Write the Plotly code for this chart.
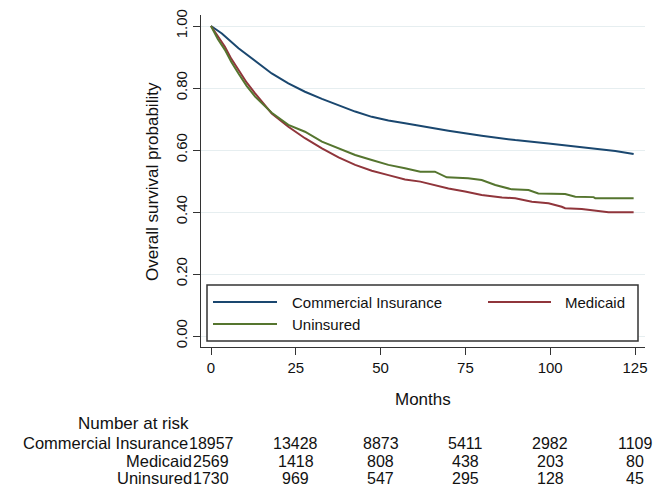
import plotly.graph_objects as go

# ---- data ----
months_ci = [0, 3.2, 8.1, 13.0, 17.9, 22.8, 27.7, 32.7, 37.6, 42.5, 47.4, 52.3, 57.2, 61.7,
             70.0, 79.8, 89.7, 99.5, 109.3, 119.2, 124.6]
surv_ci = [1.0, 0.976, 0.928, 0.888, 0.847, 0.815, 0.788, 0.765, 0.745, 0.724, 0.707, 0.695, 0.686, 0.677,
           0.662, 0.646, 0.632, 0.621, 0.610, 0.597, 0.587]

months_md = [0, 2.0, 4.1, 6.0, 8.1, 10.5, 13.0, 15.5, 17.9, 22.8, 27.7, 32.7, 37.6, 42.5, 47.4, 52.3, 57.2, 61.7,
             66.0, 70.0, 74.9, 79.8, 85.8, 89.7, 94.6, 99.5, 103.4, 104.4, 109.3, 114.3, 117.2, 124.6]
surv_md = [1.0, 0.968, 0.933, 0.894, 0.858, 0.818, 0.783, 0.749, 0.718, 0.675, 0.638, 0.605, 0.576, 0.552, 0.533,
           0.519, 0.505, 0.498,
           0.487, 0.476, 0.466, 0.455, 0.447, 0.444, 0.433, 0.428, 0.417, 0.412, 0.410, 0.404, 0.399, 0.399]

months_un = [0, 2.0, 4.1, 6.0, 8.1, 10.5, 13.0, 15.5, 17.9, 22.8, 27.7, 32.7, 37.6, 42.5, 47.4, 52.3, 57.2, 61.7,
             66.0, 69.5, 75.8, 79.8, 83.8, 88.7, 93.6, 96.5, 104.4, 107.4, 112.8, 113.3, 124.6]
surv_un = [1.0, 0.958, 0.923, 0.884, 0.847, 0.807, 0.772, 0.744, 0.720, 0.681, 0.659, 0.627, 0.605, 0.584, 0.568,
           0.552, 0.541, 0.530,
           0.530, 0.512, 0.509, 0.503, 0.487, 0.473, 0.471, 0.460, 0.458, 0.449, 0.448, 0.444, 0.444]

group_names = ["Commercial Insurance", "Medicaid", "Uninsured"]
group_colors = ["#1a476f", "#90353b", "#55752f"]

risk_times = [0, 25, 50, 75, 100, 125]
risk_ci = [18957, 13428, 8873, 5411, 2982, 1109]
risk_md = [2569, 1418, 808, 438, 203, 80]
risk_un = [1730, 969, 547, 295, 128, 45]

y_ticks = [0, 0.2, 0.4, 0.6, 0.8, 1.0]

FONT = "Liberation Sans, Arial, sans-serif"
TXT = "#111111"

# plot area in pixels: x 201..645, y 15..347
L, R, T, B = 201, 645, 15, 347
W, H = 653, 492


def px_x(px):
    return (px - L) / (R - L)


def px_y(py):
    return (B - py) / (B - T)


fig = go.Figure()
for xs, ys, name, col in zip([months_ci, months_md, months_un],
                             [surv_ci, surv_md, surv_un],
                             group_names, group_colors):
    fig.add_trace(go.Scatter(x=xs, y=ys, mode="lines", name=name,
                             line=dict(color=col, width=2), showlegend=False))

shapes = []
annotations = []

# manual Stata-style legend
shapes.append(dict(type="rect", xref="paper", yref="paper",
                   x0=px_x(207), x1=px_x(638), y0=px_y(341), y1=px_y(285),
                   line=dict(color="#333333", width=1.5), fillcolor="white", layer="above"))
legend_pos = [  # (line x0, line x1, row y, text x, anchor)
    (213, 277, 302, 290, "left"),
    (488, 551, 302, 627, "right"),
    (213, 277, 324, 290, "left"),
]
for (lx0, lx1, ly, tx, anc), name, col in zip(legend_pos, group_names, group_colors):
    shapes.append(dict(type="line", xref="paper", yref="paper",
                       x0=px_x(lx0), x1=px_x(lx1), y0=px_y(ly), y1=px_y(ly),
                       line=dict(color=col, width=2), layer="above"))
    annotations.append(dict(xref="paper", yref="paper", x=px_x(tx), y=px_y(ly),
                            text=name, showarrow=False, xanchor=anc, yanchor="middle",
                            font=dict(family=FONT, size=15, color=TXT)))

# axis titles
annotations.append(dict(xref="paper", yref="paper", x=px_x(423), y=px_y(399),
                        text="Months", showarrow=False, xanchor="center", yanchor="middle",
                        font=dict(family=FONT, size=17, color=TXT)))
annotations.append(dict(xref="paper", yref="paper", x=px_x(152), y=px_y(182),
                        text="Overall survival probability", showarrow=False, textangle=-90,
                        xanchor="center", yanchor="middle",
                        font=dict(family=FONT, size=17, color=TXT)))

# number at risk table
annotations.append(dict(xref="paper", yref="paper", x=px_x(133), y=px_y(423),
                        text="Number at risk", showarrow=False, xanchor="center", yanchor="middle",
                        font=dict(family=FONT, size=17, color=TXT)))
row_y = [443, 461, 478]
label_right = [190, 194, 194]
for name, vals, ry, lr in zip(group_names, [risk_ci, risk_md, risk_un], row_y, label_right):
    annotations.append(dict(xref="paper", yref="paper", x=px_x(lr), y=px_y(ry),
                            text=name, showarrow=False, xanchor="right", yanchor="middle",
                            font=dict(family=FONT, size=16.5, color=TXT)))
    for t, v in zip(risk_times, vals):
        annotations.append(dict(xref="x", yref="paper", x=t, y=px_y(ry),
                                text=str(v), showarrow=False, xanchor="center", yanchor="middle",
                                font=dict(family=FONT, size=16, color=TXT)))

x_per_px = 125 / (635 - 211)
y_per_px = 1.0 / (336 - 26)

fig.update_layout(
    width=W, height=H,
    margin=dict(l=L, r=W - R, t=T, b=H - B, autoexpand=False),
    paper_bgcolor="white", plot_bgcolor="white",
    font=dict(family=FONT, size=15, color=TXT),
    shapes=shapes, annotations=annotations,
    showlegend=False,
    xaxis=dict(range=[(L - 211) * x_per_px, (R - 211) * x_per_px],
               tickmode="array", tickvals=risk_times, ticktext=[str(t) for t in risk_times],
               ticks="outside", ticklen=7, tickcolor="#333333", tickwidth=1,
               showline=True, linecolor="#333333", linewidth=1,
               showgrid=False, zeroline=False, automargin=False,
               tickfont=dict(family=FONT, size=15, color=TXT)),
    yaxis=dict(range=[-(B - 336) * y_per_px, 1 + (26 - T) * y_per_px],
               tickmode="array", tickvals=y_ticks, ticktext=[f"{v:.2f}" for v in y_ticks],
               tickangle=-90,
               ticks="outside", ticklen=7, tickcolor="#333333", tickwidth=1,
               showline=True, linecolor="#333333", linewidth=1,
               showgrid=True, gridcolor="#e6eef0", gridwidth=1, zeroline=False, automargin=False,
               tickfont=dict(family=FONT, size=15, color=TXT)),
)

fig.write_html("out.html", config={"displayModeBar": False},
               post_script="document.body.style.margin='0';document.body.style.padding='0';")
